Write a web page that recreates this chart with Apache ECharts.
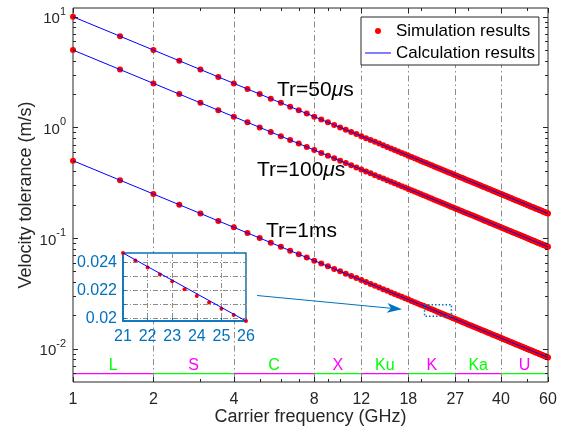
<!DOCTYPE html>
<html>
<head>
<meta charset="utf-8">
<script src="https://cdn.jsdelivr.net/npm/echarts@6/dist/echarts.min.js"></script>
<style>
    html, body { margin: 0; padding: 0; background: #fff; }
    #main { width: 566px; height: 434px; }
</style>
</head>
<body>
<div id="main"></div>
<script>
// carrier frequency (GHz) of the simulated points
const freq = [1, 1.5, 2, 2.5, 3, 3.5, 4, 4.5, 5, 5.5, 6, 6.5, 7, 7.5, 8, 8.5, 9, 9.5, 10, 10.5,
    11, 11.5, 12, 12.5, 13, 13.5, 14, 14.5, 15, 15.5, 16, 16.5, 17, 17.5, 18, 18.5, 19, 19.5, 20, 20.5,
    21, 21.5, 22, 22.5, 23, 23.5, 24, 24.5, 25, 25.5, 26, 26.5, 27, 27.5, 28, 28.5, 29, 29.5, 30, 30.5,
    31, 31.5, 32, 32.5, 33, 33.5, 34, 34.5, 35, 35.5, 36, 36.5, 37, 37.5, 38, 38.5, 39, 39.5, 40, 40.5,
    41, 41.5, 42, 42.5, 43, 43.5, 44, 44.5, 45, 45.5, 46, 46.5, 47, 47.5, 48, 48.5, 49, 49.5, 50, 50.5,
    51, 51.5, 52, 52.5, 53, 53.5, 54, 54.5, 55, 55.5, 56, 56.5, 57, 57.5, 58, 58.5, 59, 59.5, 60]

// simulation results (m/s)
const sim50us = [10, 6.667, 5, 4, 3.333, 2.857, 2.5, 2.222, 2, 1.818,
    1.667, 1.538, 1.429, 1.333, 1.25, 1.176, 1.111, 1.053, 1, 0.9524,
    0.9091, 0.8696, 0.8333, 0.8, 0.7692, 0.7407, 0.7143, 0.6897, 0.6667, 0.6452,
    0.625, 0.6061, 0.5882, 0.5714, 0.5556, 0.5405, 0.5263, 0.5128, 0.5, 0.4878,
    0.4762, 0.4651, 0.4545, 0.4444, 0.4348, 0.4255, 0.4167, 0.4082, 0.4, 0.3922,
    0.3846, 0.3774, 0.3704, 0.3636, 0.3571, 0.3509, 0.3448, 0.339, 0.3333, 0.3279,
    0.3226, 0.3175, 0.3125, 0.3077, 0.303, 0.2985, 0.2941, 0.2899, 0.2857, 0.2817,
    0.2778, 0.274, 0.2703, 0.2667, 0.2632, 0.2597, 0.2564, 0.2532, 0.25, 0.2469,
    0.2439, 0.241, 0.2381, 0.2353, 0.2326, 0.2299, 0.2273, 0.2247, 0.2222, 0.2198,
    0.2174, 0.2151, 0.2128, 0.2105, 0.2083, 0.2062, 0.2041, 0.202, 0.2, 0.198,
    0.1961, 0.1942, 0.1923, 0.1905, 0.1887, 0.1869, 0.1852, 0.1835, 0.1818, 0.1802,
    0.1786, 0.177, 0.1754, 0.1739, 0.1724, 0.1709, 0.1695, 0.1681, 0.1667]
const sim100us = [5, 3.333, 2.5, 2, 1.667, 1.429, 1.25, 1.111, 1, 0.9091,
    0.8333, 0.7692, 0.7143, 0.6667, 0.625, 0.5882, 0.5556, 0.5263, 0.5, 0.4762,
    0.4545, 0.4348, 0.4167, 0.4, 0.3846, 0.3704, 0.3571, 0.3448, 0.3333, 0.3226,
    0.3125, 0.303, 0.2941, 0.2857, 0.2778, 0.2703, 0.2632, 0.2564, 0.25, 0.2439,
    0.2381, 0.2326, 0.2273, 0.2222, 0.2174, 0.2128, 0.2083, 0.2041, 0.2, 0.1961,
    0.1923, 0.1887, 0.1852, 0.1818, 0.1786, 0.1754, 0.1724, 0.1695, 0.1667, 0.1639,
    0.1613, 0.1587, 0.1563, 0.1538, 0.1515, 0.1493, 0.1471, 0.1449, 0.1429, 0.1408,
    0.1389, 0.137, 0.1351, 0.1333, 0.1316, 0.1299, 0.1282, 0.1266, 0.125, 0.1235,
    0.122, 0.1205, 0.119, 0.1176, 0.1163, 0.1149, 0.1136, 0.1124, 0.1111, 0.1099,
    0.1087, 0.1075, 0.1064, 0.1053, 0.1042, 0.1031, 0.102, 0.101, 0.1, 0.099,
    0.098, 0.0971, 0.0962, 0.0952, 0.0943, 0.0935, 0.0926, 0.0917, 0.0909, 0.0901,
    0.0893, 0.0885, 0.0877, 0.087, 0.0862, 0.0855, 0.0847, 0.084, 0.0833]
const sim1ms = [0.5, 0.3333, 0.25, 0.2, 0.1667, 0.1429, 0.125, 0.1111, 0.1, 0.09091,
    0.08333, 0.07692, 0.07143, 0.06667, 0.0625, 0.05882, 0.05556, 0.05263, 0.05, 0.04762,
    0.04545, 0.04348, 0.04167, 0.04, 0.03846, 0.03704, 0.03571, 0.03448, 0.03333, 0.03226,
    0.03125, 0.0303, 0.02941, 0.02857, 0.02778, 0.02703, 0.02632, 0.02564, 0.025, 0.02439,
    0.02381, 0.02326, 0.02273, 0.02222, 0.02174, 0.02128, 0.02083, 0.02041, 0.02, 0.01961,
    0.01923, 0.01887, 0.01852, 0.01818, 0.01786, 0.01754, 0.01724, 0.01695, 0.01667, 0.01639,
    0.01613, 0.01587, 0.01563, 0.01538, 0.01515, 0.01493, 0.01471, 0.01449, 0.01429, 0.01408,
    0.01389, 0.0137, 0.01351, 0.01333, 0.01316, 0.01299, 0.01282, 0.01266, 0.0125, 0.01235,
    0.0122, 0.01205, 0.0119, 0.01176, 0.01163, 0.01149, 0.01136, 0.01124, 0.01111, 0.01099,
    0.01087, 0.01075, 0.01064, 0.01053, 0.01042, 0.01031, 0.0102, 0.0101, 0.01, 0.0099,
    0.0098, 0.00971, 0.00962, 0.00952, 0.00943, 0.00935, 0.00926, 0.00917, 0.00909, 0.00901,
    0.00893, 0.00885, 0.00877, 0.0087, 0.00862, 0.00855, 0.00847, 0.0084, 0.00833]

// calculation results (straight lines on log-log)
const calcFreq = [1, 60]
const calc50us = [10, 0.1667]
const calc100us = [5, 0.0833]
const calc1ms = [0.5, 0.00833]

// inset (zoom of 21-26 GHz, Tr=1ms)
const insetFreq = [21, 21.5, 22, 22.5, 23, 23.5, 24, 24.5, 25, 25.5, 26]
const insetSim = [0.02466, 0.02412, 0.02363, 0.02313, 0.02264, 0.02208, 0.0216, 0.02113, 0.02068, 0.02023, 0.01981]
const insetCalcFreq = [21, 26]
const insetCalc = [0.02466, 0.01981]
const insetXTicks = [21, 22, 23, 24, 25, 26]
const insetYTicks = [0.02, 0.021, 0.022, 0.023, 0.024]
const insetYLabels = [0.02, 0.022, 0.024]
const zoomBoxFreq = [20.7, 26.1]
const zoomBoxVel = [0.0196, 0.025]

// axes
const xTicks = [1, 2, 4, 8, 12, 18, 27, 40, 60]
const xTickLabels = ['1', '2', '4', '8', '12', '18', '27', '40', '60']
const xMinorTicks = [3, 5, 6, 7, 9, 10, 20, 30, 50]
const yTicks = [0.01, 0.1, 1, 10]
const yTickExps = ['-2', '-1', '0', '1']
const yMinorTicks = [0.006, 0.007, 0.008, 0.009, 0.02, 0.03, 0.04, 0.05, 0.06, 0.07, 0.08, 0.09,
    0.2, 0.3, 0.4, 0.5, 0.6, 0.7, 0.8, 0.9, 2, 3, 4, 5, 6, 7, 8, 9]

// frequency bands
const bandNames = ['L', 'S', 'C', 'X', 'Ku', 'K', 'Ka', 'U']
const bandEdges = [1, 2, 4, 8, 12, 18, 27, 40, 60]
const bandLevel = 0.006

const X_MIN = 1, X_MAX = 60, Y_MIN = 0.005, Y_MAX = 12
const FONT = '"Liberation Sans", Arial, Helvetica, sans-serif'
const AX = '#262626'
const INSET = '#0072BD'
const GREEN = '#00FF00'
const MAGENTA = '#FF00FF'

const pair = (xs, ys) => xs.map((x, i) => [x, ys[i]])

function tickSeries(vals, isX, len) {
    return {
        type: 'custom', silent: true, z: 6,
        data: vals.map(v => (isX ? [v, Y_MIN] : [X_MIN, v])),
        renderItem(params, api) {
            const cs = params.coordSys
            const st = { stroke: AX, lineWidth: 1 }
            if (isX) {
                const x = Math.round(api.coord([api.value(0), Y_MIN])[0]) + 0.5
                const b = cs.y + cs.height
                return {
                    type: 'group',
                    children: [
                        { type: 'line', shape: { x1: x, y1: b, x2: x, y2: b - len }, style: st },
                        { type: 'line', shape: { x1: x, y1: cs.y, x2: x, y2: cs.y + len }, style: st },
                    ],
                }
            }
            const y = Math.round(api.coord([X_MIN, api.value(1)])[1]) + 0.5
            const r = cs.x + cs.width
            return {
                type: 'group',
                children: [
                    { type: 'line', shape: { x1: cs.x, y1: y, x2: cs.x + len, y2: y }, style: st },
                    { type: 'line', shape: { x1: r, y1: y, x2: r - len, y2: y }, style: st },
                ],
            }
        },
    }
}

const chart = echarts.init(document.getElementById('main'))

const option = {
    animation: false,
    backgroundColor: '#fff',
    grid: [
        { left: 73, right: 18, top: 8, bottom: 52, show: true, borderColor: AX, borderWidth: 1, z: 0 },
        { left: 123, top: 253, width: 123, height: 68, show: true, backgroundColor: '#fff',
          borderColor: INSET, borderWidth: 1.5, z: 3 },
    ],
    xAxis: [
        {
            type: 'log', logBase: 10, gridIndex: 0, min: X_MIN, max: X_MAX,
            name: 'Carrier frequency (GHz)', nameLocation: 'middle', nameGap: 26,
            nameTextStyle: { fontSize: 18, color: AX, fontFamily: FONT },
            axisLine: { show: false }, axisTick: { show: false },
            axisLabel: { show: false }, splitLine: { show: false },
        },
        {
            type: 'value', gridIndex: 1, min: 21, max: 26, interval: 1, z: 4,
            axisLine: { lineStyle: { color: INSET, width: 1.5 } },
            axisTick: { inside: true, length: 3, customValues: insetXTicks, lineStyle: { color: INSET } },
            axisLabel: { color: INSET, fontSize: 16, fontFamily: FONT, margin: 8 },
            splitLine: { show: true, lineStyle: { color: '#8c8c8c', type: [5, 2, 1, 2] } },
        },
    ],
    yAxis: [
        {
            type: 'log', logBase: 10, gridIndex: 0, min: Y_MIN, max: Y_MAX,
            name: 'Velocity tolerance (m/s)', nameLocation: 'middle', nameGap: 38,
            nameTextStyle: { fontSize: 18, color: AX, fontFamily: FONT },
            axisLine: { show: false }, axisTick: { show: false },
            axisLabel: { show: false }, splitLine: { show: false },
        },
        {
            type: 'value', gridIndex: 1, min: insetCalc[1], max: insetCalc[0], z: 4,
            axisLine: { show: true, lineStyle: { color: INSET, width: 1.5 } },
            axisTick: { inside: true, length: 3, customValues: insetYTicks, lineStyle: { color: INSET } },
            axisLabel: { customValues: insetYLabels, color: INSET, fontSize: 16, fontFamily: FONT, margin: 6 },
            splitLine: { show: true, lineStyle: { color: '#8c8c8c', type: [5, 2, 1, 2] } },
        },
    ],
    legend: {
        left: 361, top: 17, orient: 'vertical',
        data: [
            { name: 'Simulation results', icon: 'circle' },
            { name: 'Calculation results', icon: 'path://M0,0H26V1H0Z' },
        ],
        itemWidth: 26, itemHeight: 6, itemGap: 2,
        padding: [4, 4, 2, 4],
        borderColor: AX, borderWidth: 1, backgroundColor: '#fff',
        textStyle: { fontSize: 17, color: '#000', fontFamily: FONT, lineHeight: 20 },
        selectedMode: false,
    },
    series: [
        // vertical band grid lines
        {
            type: 'custom', silent: true, z: 1,
            data: bandEdges.slice(1, -1).map(v => [v, Y_MIN]),
            renderItem(params, api) {
                const cs = params.coordSys
                const x = Math.round(api.coord([api.value(0), Y_MIN])[0]) + 0.5
                return {
                    type: 'line', shape: { x1: x, y1: cs.y, x2: x, y2: cs.y + cs.height },
                    style: { stroke: '#8c8c8c', lineWidth: 1, lineDash: [6, 3, 1.5, 3] },
                }
            },
        },
        // band lines and names
        {
            type: 'custom', silent: true, z: 2,
            data: bandNames.map((n, i) => [bandEdges[i], bandLevel, bandEdges[i + 1]]),
            renderItem(params, api) {
                const i = params.dataIndex
                const a = api.value(0), b = api.value(2)
                const p1 = api.coord([a, bandLevel])
                const p2 = api.coord([b, bandLevel])
                const pc = api.coord([Math.sqrt(a * b), bandLevel])
                const y = Math.round(p1[1])
                return {
                    type: 'group',
                    children: [
                        { type: 'rect', shape: { x: p1[0], y: y, width: p2[0] - p1[0], height: 1.2 },
                          style: { fill: i % 2 ? GREEN : MAGENTA, stroke: null } },
                        { type: 'text', x: pc[0], y: y - 7,
                          style: { text: bandNames[i], fill: i % 2 ? MAGENTA : GREEN,
                                   font: '16px ' + FONT, align: 'center', verticalAlign: 'middle' } },
                    ],
                }
            },
        },
        // zoom box
        {
            type: 'custom', silent: true, z: 5,
            data: [[zoomBoxFreq[0], zoomBoxVel[1], zoomBoxFreq[1], zoomBoxVel[0]]],
            renderItem(params, api) {
                const p1 = api.coord([api.value(0), api.value(1)])
                const p2 = api.coord([api.value(2), api.value(3)])
                return {
                    type: 'rect',
                    shape: { x: p1[0], y: p1[1], width: p2[0] - p1[0], height: p2[1] - p1[1] },
                    style: { fill: 'none', stroke: INSET, lineWidth: 1.5, lineDash: [1.5, 2] },
                }
            },
        },
        tickSeries(xTicks, true, 5),
        tickSeries(xMinorTicks, true, 3),
        tickSeries(yTicks, false, 5),
        tickSeries(yMinorTicks, false, 3),
        // x tick labels
        {
            type: 'custom', silent: true, z: 6,
            data: xTicks.map(v => [v, Y_MIN]),
            renderItem(params, api) {
                const p = api.coord([api.value(0), Y_MIN])
                return {
                    type: 'text', x: p[0], y: p[1] + 10,
                    style: { text: xTickLabels[params.dataIndex], fill: AX, font: '16px ' + FONT,
                             align: 'center', verticalAlign: 'top' },
                }
            },
        },
        // y tick labels (10^n)
        {
            type: 'custom', silent: true, z: 6,
            data: yTicks.map(v => [X_MIN, v]),
            renderItem(params, api) {
                const p = api.coord([X_MIN, api.value(1)])
                return {
                    type: 'text', x: p[0] - 7, y: p[1] + 2.5,
                    style: {
                        text: '{b|10}{s|' + yTickExps[params.dataIndex] + '}',
                        rich: {
                            b: { fontSize: 15, fontFamily: FONT, fill: AX, lineHeight: 26 },
                            s: { fontSize: 11, fontFamily: FONT, fill: AX, verticalAlign: 'top' },
                        },
                        align: 'right', verticalAlign: 'middle',
                    },
                }
            },
        },
        { type: 'scatter', name: 'Simulation results', data: pair(freq, sim50us), symbolSize: 6,
          itemStyle: { color: '#FF0000', opacity: 1 }, z: 3, silent: true },
        { type: 'scatter', name: 'Simulation results', data: pair(freq, sim100us), symbolSize: 6,
          itemStyle: { color: '#FF0000', opacity: 1 }, z: 3, silent: true },
        { type: 'scatter', name: 'Simulation results', data: pair(freq, sim1ms), symbolSize: 6,
          itemStyle: { color: '#FF0000', opacity: 1 }, z: 3, silent: true },
        { type: 'line', name: 'Calculation results', data: pair(calcFreq, calc50us), symbol: 'none',
          lineStyle: { color: '#0000FF', width: 1 }, itemStyle: { color: '#0000FF' }, z: 4, silent: true },
        { type: 'line', name: 'Calculation results', data: pair(calcFreq, calc100us), symbol: 'none',
          lineStyle: { color: '#0000FF', width: 1 }, itemStyle: { color: '#0000FF' }, z: 4, silent: true },
        { type: 'line', name: 'Calculation results', data: pair(calcFreq, calc1ms), symbol: 'none',
          lineStyle: { color: '#0000FF', width: 1 }, itemStyle: { color: '#0000FF' }, z: 4, silent: true },
        // inset
        { type: 'scatter', name: 'inset sim', xAxisIndex: 1, yAxisIndex: 1, data: pair(insetFreq, insetSim),
          symbolSize: 4, itemStyle: { color: '#FF0000', opacity: 1 }, z: 5, silent: true },
        { type: 'line', name: 'inset calc', xAxisIndex: 1, yAxisIndex: 1, data: pair(insetCalcFreq, insetCalc),
          symbol: 'none', lineStyle: { color: '#0000FF', width: 1 }, z: 6, silent: true },
    ],
}

// annotations: Tr labels and arrow
const arrowFrom = [257, 295.5], arrowTo = [402, 309.3]
const dx = arrowTo[0] - arrowFrom[0], dy = arrowTo[1] - arrowFrom[1]
const dl = Math.sqrt(dx * dx + dy * dy)
const ux = dx / dl, uy = dy / dl
const head = [
    arrowTo,
    [arrowTo[0] - 15 * ux - 5 * uy, arrowTo[1] - 15 * uy + 5 * ux],
    [arrowTo[0] - 11 * ux, arrowTo[1] - 11 * uy],
    [arrowTo[0] - 15 * ux + 5 * uy, arrowTo[1] - 15 * uy - 5 * ux],
]
const trText = (x, y, before, after) => ({
    type: 'text', x, y, z: 10, silent: true,
    style: {
        text: '{a|' + before + '}{m|μ}{a|' + after + '}',
        rich: {
            a: { fontSize: 21, fontFamily: FONT, fill: '#000' },
            m: { fontSize: 21, fontFamily: FONT, fontStyle: 'italic', fill: '#000' },
        },
        align: 'left', verticalAlign: 'middle',
    },
})
option.graphic = [
    trText(277, 90, 'Tr=50', 's'),
    trText(257, 170, 'Tr=100', 's'),
    { type: 'text', x: 266, y: 231, z: 10, silent: true,
      style: { text: 'Tr=1ms', font: '21px ' + FONT, fill: '#000', align: 'left', verticalAlign: 'middle' } },
    { type: 'line', z: 10, silent: true,
      shape: { x1: arrowFrom[0], y1: arrowFrom[1], x2: head[2][0], y2: head[2][1] },
      style: { stroke: INSET, lineWidth: 1 } },
    { type: 'polygon', z: 10, silent: true, shape: { points: head }, style: { fill: INSET } },
]

chart.setOption(option)
</script>
</body>
</html>
